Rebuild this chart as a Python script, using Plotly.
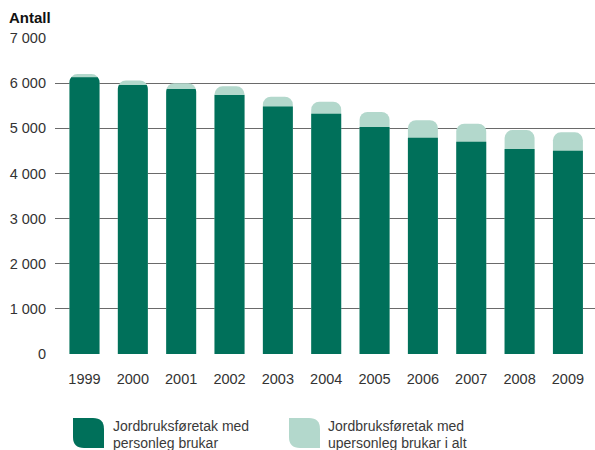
import plotly.graph_objects as go

years = ["1999", "2000", "2001", "2002", "2003", "2004", "2005", "2006", "2007", "2008", "2009"]
personleg = [6130, 5960, 5870, 5740, 5480, 5320, 5030, 4790, 4700, 4540, 4500]
upersonleg = [70, 100, 130, 190, 220, 270, 330, 390, 400, 420, 410]
y_ticks = [0, 1000, 2000, 3000, 4000, 5000, 6000, 7000]
y_ticktext = ["0", "1 000", "2 000", "3 000", "4 000", "5 000", "6 000", "7 000"]
legend_labels = [["Jordbruksføretak med", "personleg brukar"],
                 ["Jordbruksføretak med", "upersonleg brukar i alt"]]

DARK = "#00705A"
LIGHT = "#B3D8CC"
FONT = "Liberation Sans, Arial, sans-serif"

W, H = 595, 450
L, R, T, B = 55, 0, 38, 96
PW, PH = W - L - R, H - T - B

totals = [a + b for a, b in zip(personleg, upersonleg)]
xs = list(range(len(years)))

fig = go.Figure()
fig.add_trace(go.Bar(x=xs, y=totals, marker=dict(color=LIGHT, line=dict(width=0)),
                     name=" ".join(legend_labels[1]), showlegend=False, hoverinfo="skip"))
fig.add_trace(go.Bar(x=xs, y=personleg, marker=dict(color=DARK, line=dict(width=0)),
                     name=" ".join(legend_labels[0]), showlegend=False, hoverinfo="skip"))

def px2paper(px, py):
    return (px - L) / PW, (H - B - py) / PH

def leaf(x0, y0, x1, y1, r, color):
    # legend key: top-right and bottom-left corners rounded (pixel -> paper)
    a = px2paper(x0, y0); b = px2paper(x1 - r, y0); c = px2paper(x1, y0 + r)
    d = px2paper(x1, y1); e = px2paper(x0 + r, y1); f = px2paper(x0, y1 - r)
    cq1 = px2paper(x1, y0); cq2 = px2paper(x0, y1)
    path = (f"M {a[0]},{a[1]} L {b[0]},{b[1]} Q {cq1[0]},{cq1[1]} {c[0]},{c[1]} "
            f"L {d[0]},{d[1]} L {e[0]},{e[1]} Q {cq2[0]},{cq2[1]} {f[0]},{f[1]} Z")
    return dict(type="path", xref="paper", yref="paper", path=path,
                fillcolor=color, line=dict(width=0), layer="above")

shapes = [leaf(73, 418, 104, 448, 11, DARK), leaf(289, 418, 320, 448, 11, LIGHT)]

annotations = [
    dict(text="<b>Antall</b>", xref="paper", yref="paper", x=px2paper(7, 0)[0], y=px2paper(0, 17)[1],
         xanchor="left", yanchor="middle", showarrow=False, font=dict(family=FONT, size=15, color="#111")),
]
for lx, lines in zip([111, 326], legend_labels):
    for ly, txt in zip([426, 443], lines):
        annotations.append(dict(text=txt, xref="paper", yref="paper", x=px2paper(lx, 0)[0],
                                y=px2paper(0, ly)[1], xanchor="left", yanchor="middle",
                                showarrow=False, font=dict(family=FONT, size=14, color="#3a3a3a")))

fig.update_layout(
    width=W, height=H,
    margin=dict(l=L, r=R, t=T, b=B, pad=0),
    paper_bgcolor="white", plot_bgcolor="white",
    barmode="overlay", bargap=0.38, barcornerradius=8,
    font=dict(family=FONT, size=14, color="#333"),
    shapes=shapes, annotations=annotations,
    xaxis=dict(range=[-0.61, 10.56], tickvals=xs, ticktext=years, showgrid=False,
               zeroline=False, showline=False, ticks="", ticklabelstandoff=14,
               tickfont=dict(family=FONT, size=14.5, color="#333")),
    yaxis=dict(range=[0, 7000], tickvals=y_ticks, ticktext=y_ticktext, showgrid=True,
               gridcolor="#6a6a6a", gridwidth=1.2, zeroline=False, showline=False, ticks="",
               ticklabelstandoff=8, automargin=False,
               tickfont=dict(family=FONT, size=14.5, color="#333")),
)

fig.write_html("out.html", config={"displayModeBar": False},
               post_script="document.body.style.margin='0px';document.body.style.padding='0px';")
